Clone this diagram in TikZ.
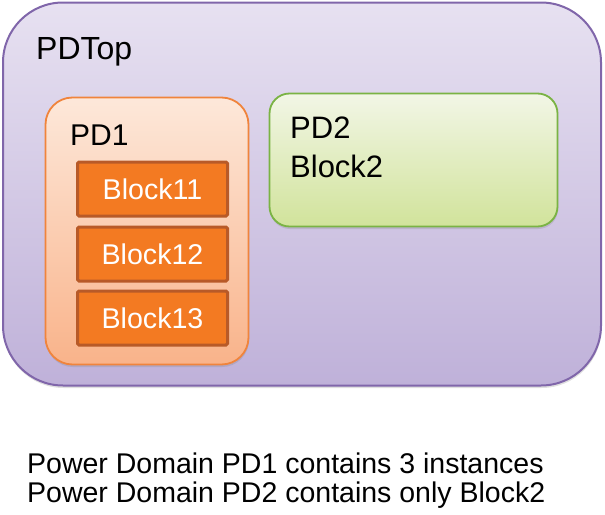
\documentclass[tikz,border=0pt]{standalone}
\usepackage{fontspec}
\setmainfont{Liberation Sans}
\usetikzlibrary{shadows}
\definecolor{topB}{HTML}{8066AA}
\definecolor{topT}{HTML}{E7E1F1}
\definecolor{topBt}{HTML}{BFB1D9}
\definecolor{pdoB}{HTML}{F0843C}
\definecolor{pdoT}{HTML}{FDE8DA}
\definecolor{pdoBt}{HTML}{F9B38A}
\definecolor{blkF}{HTML}{F37A22}
\definecolor{blkB}{HTML}{B85A28}
\definecolor{pdgB}{HTML}{7AB344}
\definecolor{pdgT}{HTML}{F2F6E6}
\definecolor{pdgBt}{HTML}{D1E39B}
\tikzset{
  shd/.style={drop shadow={opacity=0.25, shadow xshift=0.5pt, shadow yshift=-2.5pt}},
  outerbox/.style={draw=topB, line width=2pt, rounded corners=60pt, top color=topT, bottom color=topBt, shd, inner sep=0pt},
  pdonebox/.style={draw=pdoB, line width=1.8pt, rounded corners=27pt, top color=pdoT, bottom color=pdoBt, shd, inner sep=0pt},
  pdtwobox/.style={draw=pdgB, line width=1.8pt, rounded corners=20pt, top color=pdgT, bottom color=pdgBt, shd, inner sep=0pt},
  blockbox/.style={draw=blkB, fill=blkF, line width=3pt, rounded corners=1.5pt, minimum width=150pt, minimum height=54pt, inner sep=0pt, text=white, font=\fontsize{28.6}{32}\selectfont},
  lbl/.style={anchor=base west, inner sep=0pt, font=\fontsize{31}{35}\selectfont},
  note/.style={anchor=base west, inner sep=0pt, font=\fontsize{28.5}{31}\selectfont},
}
\begin{document}
\begin{tikzpicture}[x=1pt,y=-1pt]
\useasboundingbox (0,0) rectangle (605,514);
\node[outerbox, minimum width=598pt, minimum height=383pt] (pdtop) at (302,194) {};
\node[lbl, font=\fontsize{32}{36}\selectfont] (pdtoplbl) at (36,59) {PDTop};
\node[pdonebox, minimum width=203pt, minimum height=267pt] (pd1) at (147,231) {};
\node[lbl, font=\fontsize{30}{34}\selectfont] (pd1lbl) at (70,145) {PD1};
\node[blockbox] (b11) at (152.5,189) {Block11};
\node[blockbox] (b12) at (152.5,254) {Block12};
\node[blockbox] (b13) at (152.5,318) {Block13};
\node[pdtwobox, minimum width=288pt, minimum height=133pt] (pd2) at (413.5,160) {};
\node[lbl] (pd2lbl) at (290,138) {PD2};
\node[lbl] (pd2blk) at (290,177) {Block2};
\node[note] (n1) at (27,473) {Power Domain PD1 contains 3 instances};
\node[note] (n2) at (27,502) {Power Domain PD2 contains only Block2};
\end{tikzpicture}
\end{document}
